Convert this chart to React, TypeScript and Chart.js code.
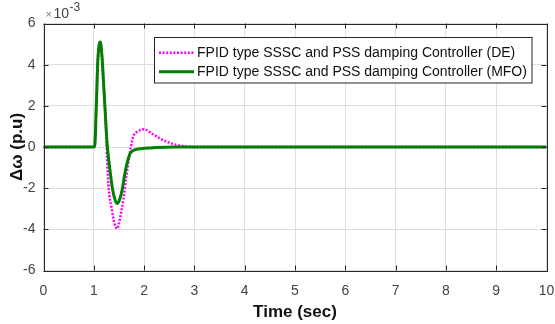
import React, { useEffect, useRef } from "react";
import { Chart, registerables } from "chart.js";

Chart.register(...registerables);

// Δω in units of 1e-3 p.u.
const timeDE = [0, 1.0, 1.02, 1.05, 1.08, 1.11, 1.13, 1.16, 1.19, 1.22, 1.25, 1.27, 1.29, 1.31, 1.35, 1.38, 1.41, 1.46, 1.5, 1.535, 1.59, 1.65, 1.72, 1.785, 1.885, 2.0, 2.15, 2.32, 2.51, 2.71, 3.0, 10];
const deltaDE = [0, 0, 0.1, 2.0, 4.2, 5.0, 5.1, 4.5, 3.3, 2.0, 0.4, -0.9, -1.8, -2.35, -2.9, -3.35, -3.7, -3.97, -3.7, -3.3, -2.5, -1.37, -0.23, 0.5, 0.77, 0.86, 0.66, 0.41, 0.2, 0.07, 0, 0];

const timeMFO = [0, 1.0, 1.02, 1.05, 1.08, 1.11, 1.13, 1.16, 1.19, 1.22, 1.25, 1.27, 1.31, 1.37, 1.42, 1.47, 1.52, 1.57, 1.61, 1.65, 1.72, 1.8, 1.88, 2.0, 2.25, 2.6, 10];
const deltaMFO = [0, 0, 0.1, 2.0, 4.2, 5.0, 5.1, 4.5, 3.3, 2.0, 0.7, 0, -0.9, -2.0, -2.55, -2.74, -2.5, -2.0, -1.4, -0.9, -0.32, -0.15, -0.1, -0.06, -0.02, 0, 0];

const xTicks = [0, 1, 2, 3, 4, 5, 6, 7, 8, 9, 10];
const yTicks = [-6, -4, -2, 0, 2, 4, 6];

const legendLabels = [
  "FPID type SSSC and PSS damping Controller (DE)",
  "FPID type SSSC and PSS damping Controller (MFO)",
];
const xTitle = "Time (sec)";
const yTitle = "\u0394\u03c9 (p.u)";

const FONT = "'Liberation Sans', Arial, sans-serif";
const AXIS = "#262626";
const PINK = "#ff00ff";
const GREEN = "#008000";

const decorPlugin = {
  id: "decor",
  afterDraw(chart: any) {
    const ctx = chart.ctx as CanvasRenderingContext2D;
    const a = chart.chartArea;
    const xs = chart.scales.x;
    const ys = chart.scales.y;
    ctx.save();
    // box
    ctx.strokeStyle = AXIS;
    ctx.lineWidth = 1;
    ctx.strokeRect(Math.round(a.left) + 0.5, Math.round(a.top) + 0.5, Math.round(a.right - a.left), Math.round(a.bottom - a.top));
    // inward ticks
    const tl = 5;
    ctx.beginPath();
    xTicks.forEach((t) => {
      const px = Math.round(xs.getPixelForValue(t)) + 0.5;
      ctx.moveTo(px, a.bottom);
      ctx.lineTo(px, a.bottom - tl);
      ctx.moveTo(px, a.top);
      ctx.lineTo(px, a.top + tl);
    });
    yTicks.forEach((t) => {
      const py = Math.round(ys.getPixelForValue(t)) + 0.5;
      ctx.moveTo(a.left, py);
      ctx.lineTo(a.left + tl, py);
      ctx.moveTo(a.right, py);
      ctx.lineTo(a.right - tl, py);
    });
    ctx.stroke();

    // exponent label
    ctx.fillStyle = "#777";
    ctx.textBaseline = "alphabetic";
    ctx.textAlign = "left";
    ctx.font = `11px ${FONT}`;
    ctx.fillText("\u00d7", a.left + 2, 18);
    ctx.fillStyle = "#444";
    ctx.font = `14px ${FONT}`;
    ctx.fillText("10", a.left + 10, 18);
    ctx.font = `12px ${FONT}`;
    ctx.fillText("-3", a.left + 26, 11);

    // titles
    ctx.fillStyle = "#111";
    ctx.font = `bold 17px ${FONT}`;
    ctx.textAlign = "center";
    ctx.textBaseline = "middle";
    ctx.fillText(xTitle, (a.left + a.right) / 2, 312);
    ctx.save();
    ctx.translate(17, (a.top + a.bottom) / 2);
    ctx.rotate(-Math.PI / 2);
    ctx.fillText(yTitle, 0, 0);
    ctx.restore();

    // legend
    const lx = 154, ly = 37, lw = 377.5, lh = 45.5;
    ctx.fillStyle = "#fff";
    ctx.fillRect(lx, ly, lw, lh);
    ctx.strokeStyle = AXIS;
    ctx.lineWidth = 1;
    ctx.strokeRect(lx + 0.5, ly + 0.5, lw, lh);
    const rows = [52.7, 71.7];
    const styles = [
      { color: PINK, width: 2.5, dash: [2, 1.6] },
      { color: GREEN, width: 3, dash: [] as number[] },
    ];
    rows.forEach((ry, i) => {
      ctx.beginPath();
      ctx.strokeStyle = styles[i].color;
      ctx.lineWidth = styles[i].width;
      ctx.setLineDash(styles[i].dash);
      ctx.moveTo(159, ry);
      ctx.lineTo(194, ry);
      ctx.stroke();
      ctx.setLineDash([]);
      ctx.fillStyle = "#111";
      ctx.font = `14px ${FONT}`;
      ctx.textAlign = "left";
      ctx.textBaseline = "middle";
      ctx.fillText(legendLabels[i], 197, ry);
    });
    ctx.restore();
  },
};

export default function App() {
  const ref = useRef<HTMLCanvasElement>(null);
  useEffect(() => {
    document.body.style.margin = "0";
    const canvas = ref.current!;
    const chart = new Chart(canvas, {
      type: "line",
      data: {
        datasets: [
          {
            label: legendLabels[1],
            data: timeMFO.map((t, i) => ({ x: t, y: deltaMFO[i] })),
            borderColor: GREEN,
            borderWidth: 3,
            pointRadius: 0,
            cubicInterpolationMode: "monotone",
            order: 0,
          },
          {
            label: legendLabels[0],
            data: timeDE.map((t, i) => ({ x: t, y: deltaDE[i] })),
            borderColor: PINK,
            borderWidth: 2.5,
            borderDash: [2, 1.6],
            pointRadius: 0,
            cubicInterpolationMode: "monotone",
            order: 1,
          },
        ],
      },
      options: {
        responsive: false,
        animation: false,
        devicePixelRatio: 1,
        layout: { padding: { left: 0, top: 23.5, right: 8.5, bottom: 0 } },
        plugins: { legend: { display: false }, tooltip: { enabled: false } },
        scales: {
          x: {
            type: "linear",
            min: 0,
            max: 10,
            afterBuildTicks: (s: any) => {
              s.ticks = xTicks.map((v) => ({ value: v }));
            },
            afterFit: (s: any) => {
              s.height = 53.5;
              s.paddingLeft = 0;
              s.paddingRight = 0;
            },
            grid: { color: "#dedede", drawTicks: false },
            border: { display: false },
            ticks: {
              padding: 12,
              color: "#444",
              font: { family: FONT, size: 14 },
              maxRotation: 0,
              autoSkip: false,
            },
          },
          y: {
            type: "linear",
            min: -6,
            max: 6,
            afterBuildTicks: (s: any) => {
              s.ticks = yTicks.map((v) => ({ value: v }));
            },
            afterFit: (s: any) => {
              s.width = 43.5;
              s.paddingTop = 0;
              s.paddingBottom = 0;
            },
            grid: { color: "#dedede", drawTicks: false },
            border: { display: false },
            ticks: {
              padding: 8,
              color: "#444",
              font: { family: FONT, size: 14 },
              autoSkip: false,
            },
          },
        },
      },
      plugins: [decorPlugin],
    } as any);
    return () => chart.destroy();
  }, []);
  return (
    <div style={{ position: "fixed", left: 0, top: 0, width: 555, height: 324, background: "#fff" }}>
      <canvas ref={ref} width={555} height={324} style={{ width: 555, height: 324 }} />
    </div>
  );
}
